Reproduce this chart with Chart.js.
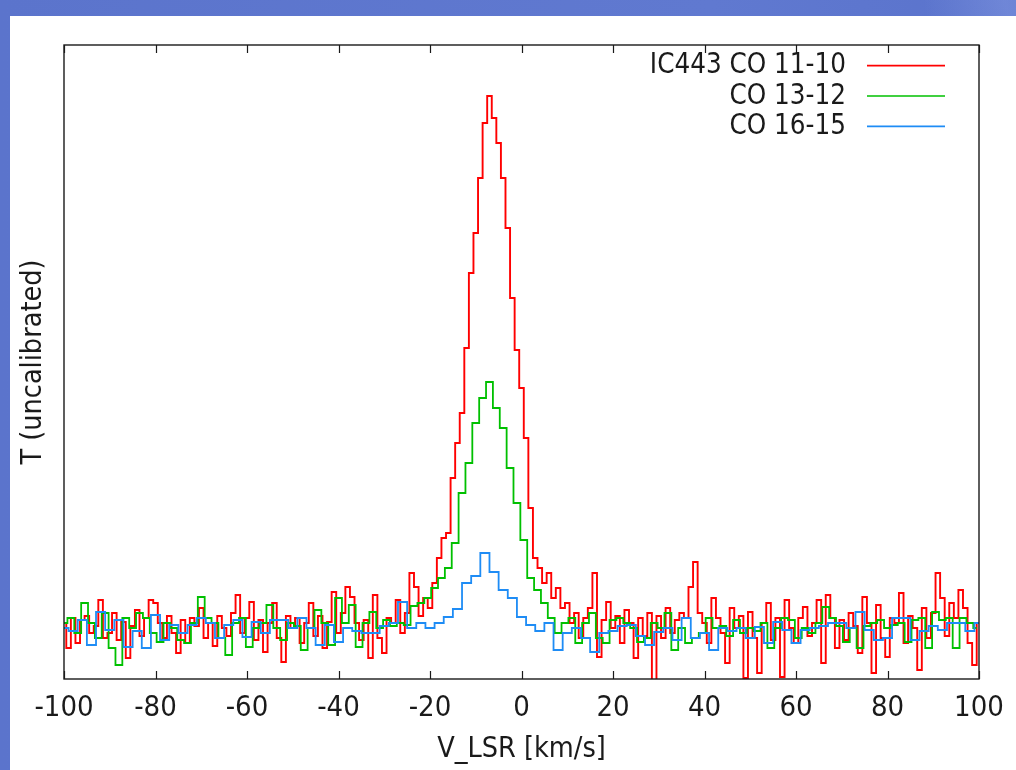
<!DOCTYPE html>
<html><head><meta charset="utf-8">
<script src="https://cdn.jsdelivr.net/npm/chart.js@4.4.1/dist/chart.umd.min.js"></script>
<style>
html,body{margin:0;padding:0;background:#5f78cf;overflow:hidden}
canvas{display:block}
</style></head>
<body>
<canvas id="c" width="1016" height="770" style="width:1016px;height:770px"></canvas>
<script>
// ---------- data ----------
const seriesLabels = ['IC443 CO 11-10', 'CO 13-12', 'CO 16-15'];
const velocityTicks = [-100, -80, -60, -40, -20, 0, 20, 40, 60, 80, 100];
const xAxisTitle = 'V_LSR [km/s]';
const yAxisTitle = 'T (uncalibrated)';

// channel grids (start velocity, channel width in km/s)
const redStart = -100, redWidth = 1.0;
const greenStart = -100, greenWidth = 1.5;
const blueStart = -100, blueWidth = 2.0;

// IC443 CO 11-10
const redValues = [
 0.05,-0.2,0.1,-0.15,0.08,0.12,-0.05,0.02,0.28,-0.1,
 -0.05,0.15,-0.12,0.06,-0.3,0.02,0.18,-0.08,0.1,0.28,
 0.25,0.05,-0.1,0.12,-0.05,-0.25,0.08,-0.15,0.1,0.02,
 0.2,-0.1,0.05,-0.18,0.12,0.0,-0.08,0.15,0.33,-0.05,
 0.1,0.26,-0.12,0.08,-0.24,0.05,0.25,-0.1,-0.34,0.12,
 0.0,0.1,-0.15,0.05,0.25,-0.08,0.12,-0.2,0.06,0.36,
 -0.05,0.15,0.41,0.31,0.05,-0.12,0.08,-0.3,0.33,-0.1,
 -0.25,0.1,0.05,0.28,-0.05,0.15,0.55,0.41,0.12,0.3,
 0.2,0.45,0.7,0.9,0.95,1.5,1.85,2.15,2.8,3.55,
 3.95,4.5,5.05,5.32,5.1,4.85,4.5,4.0,3.3,2.78,
 2.4,1.9,1.2,0.7,0.6,0.45,0.55,0.3,0.4,0.2,
 0.25,0.05,0.15,-0.1,0.1,0.2,0.55,-0.29,0.08,0.26,
 0.0,0.12,-0.15,0.18,0.05,-0.3,0.1,-0.08,0.15,-0.52,
 0.12,-0.1,0.2,-0.05,0.08,0.15,0.1,0.41,0.66,0.15,
 0.05,-0.15,0.3,0.1,-0.05,-0.35,0.2,0.0,0.12,-0.5,
 0.16,-0.1,-0.45,0.05,0.25,-0.12,0.1,-0.49,0.28,0.0,
 -0.15,0.1,0.21,-0.08,0.05,0.28,-0.35,0.33,0.1,-0.2,
 0.08,-0.12,0.15,0.02,-0.25,0.31,0.05,-0.45,0.23,-0.1,
 -0.29,0.1,0.05,0.35,-0.15,0.12,0.0,-0.42,0.2,-0.1,
 0.15,0.55,0.3,-0.08,0.25,0.1,0.38,0.2,-0.15,-0.37,
 0.05
];

// CO 13-12
const greenValues = [
 0.05,0.1,-0.05,0.25,0.05,-0.1,0.15,-0.2,-0.37,0.1,
 0.0,0.15,0.1,-0.05,-0.14,0.05,0.0,-0.12,-0.15,0.05,
 0.31,0.1,0.05,-0.1,-0.27,0.05,0.1,-0.19,0.0,0.05,
 0.23,0.0,-0.12,0.05,0.02,-0.22,0.0,0.18,0.05,-0.17,
 0.3,0.05,0.23,-0.19,0.05,0.16,0.0,0.08,0.02,0.05,
 0.03,0.22,0.25,0.3,0.4,0.5,0.6,0.85,1.35,1.65,
 2.05,2.3,2.46,2.2,2.0,1.6,1.25,0.88,0.5,0.38,
 0.25,0.1,-0.05,0.05,0.1,-0.15,0.05,0.15,-0.1,-0.15,
 0.08,0.1,0.05,0.0,-0.14,-0.1,0.05,0.0,0.15,-0.22,
 0.0,-0.15,-0.1,-0.05,0.1,0.0,0.02,-0.08,0.08,-0.05,
 0.0,-0.03,0.05,-0.2,0.0,0.1,0.08,-0.1,0.0,-0.05,
 0.05,0.21,0.1,0.02,-0.14,0.0,-0.2,0.02,0.05,0.08,
 0.0,0.03,0.05,-0.14,0.08,0.1,-0.2,0.16,0.08,0.1,
 -0.2,0.1,0.05,0.0
];

// CO 16-15
const blueValues = [
 0.0,-0.03,0.08,-0.17,0.16,-0.02,0.08,-0.19,-0.03,-0.2,
 0.13,-0.12,0.03,-0.05,0.03,0.1,0.05,-0.1,0.03,0.08,
 -0.09,0.06,-0.05,0.08,0.08,0.0,0.1,0.0,-0.17,0.03,
 -0.14,0.0,-0.03,-0.05,-0.05,0.02,0.05,0.26,0.0,0.05,
 0.0,0.05,0.11,0.19,0.45,0.52,0.75,0.56,0.38,0.3,
 0.11,0.03,-0.03,0.05,-0.22,-0.05,0.0,-0.1,-0.24,-0.05,
 -0.03,0.02,0.03,-0.08,-0.17,-0.04,0.0,-0.12,0.1,-0.1,
 -0.05,-0.22,0.0,-0.03,0.0,-0.1,0.01,-0.15,0.06,-0.02,
 -0.15,-0.02,0.0,0.02,0.05,0.05,0.0,0.16,-0.02,-0.12,
 -0.1,0.1,0.1,-0.12,-0.03,0.02,-0.02,0.05,0.05,-0.03,
 0.05
];

// ---------- build ----------
function toPoints(start, width, vals) {
  return vals.map((v, i) => ({ x: start + i * width, y: v }));
}
const FONT = "'DejaVu Sans Condensed', 'DejaVu Sans', sans-serif";
const colors = ['#ff0000', '#00c000', '#1e8cf5'];
const widths = [1.9, 1.8, 1.8];

const bgPlugin = {
  id: 'bg',
  beforeDraw(chart) {
    const ctx = chart.ctx;
    ctx.save();
    const g = ctx.createLinearGradient(0, 0, 1016, 0);
    g.addColorStop(0, '#5b74cc');
    g.addColorStop(0.7, '#6079d0');
    g.addColorStop(1, '#5a73cc');
    ctx.fillStyle = g;
    ctx.fillRect(0, 0, chart.width, chart.height);
    const r = ctx.createRadialGradient(1180, -40, 60, 1180, -40, 260);
    r.addColorStop(0, 'rgba(150,170,235,0)');
    r.addColorStop(0.6, 'rgba(150,170,235,0.35)');
    r.addColorStop(1, 'rgba(150,170,235,0)');
    ctx.fillStyle = r;
    ctx.fillRect(0, 0, chart.width, chart.height);
    ctx.fillStyle = '#ffffff';
    ctx.fillRect(10, 16, chart.width - 10, chart.height - 16);
    ctx.restore();
  }
};

const framePlugin = {
  id: 'frame',
  afterDraw(chart) {
    const ctx = chart.ctx;
    const a = chart.chartArea;
    const xs = chart.scales.x;
    ctx.save();
    ctx.strokeStyle = '#1a1a1a';
    ctx.lineWidth = 1.4;
    ctx.strokeRect(a.left, a.top, a.right - a.left, a.bottom - a.top);
    ctx.lineWidth = 1.2;
    ctx.beginPath();
    velocityTicks.forEach(v => {
      const px = Math.round(xs.getPixelForValue(v)) + 0.5;
      ctx.moveTo(px, a.bottom); ctx.lineTo(px, a.bottom - 8);
      ctx.moveTo(px, a.top); ctx.lineTo(px, a.top + 8);
    });
    ctx.stroke();
    // legend (gnuplot style: right-aligned text, sample line to the right)
    ctx.font = '27.5px ' + FONT;
    ctx.textAlign = 'right';
    ctx.textBaseline = 'alphabetic';
    chart.data.datasets.forEach((ds, i) => {
      const ly = 65.7 + i * 30.3;
      ctx.fillStyle = '#1a1a1a';
      ctx.fillText(ds.label, 846, ly + 7.5);
      ctx.strokeStyle = ds.borderColor;
      ctx.lineWidth = 1.7;
      ctx.beginPath();
      ctx.moveTo(867, ly); ctx.lineTo(945, ly);
      ctx.stroke();
    });
    ctx.restore();
  }
};

new Chart(document.getElementById('c'), {
  type: 'line',
  data: {
    datasets: [
      { label: seriesLabels[0], data: toPoints(redStart, redWidth, redValues), borderColor: colors[0], borderWidth: widths[0], order: 3 },
      { label: seriesLabels[1], data: toPoints(greenStart, greenWidth, greenValues), borderColor: colors[1], borderWidth: widths[1], order: 2 },
      { label: seriesLabels[2], data: toPoints(blueStart, blueWidth, blueValues), borderColor: colors[2], borderWidth: widths[2], order: 1 }
    ].map(d => Object.assign(d, { stepped: 'middle', pointRadius: 0, fill: false, tension: 0 }))
  },
  options: {
    responsive: false,
    animation: false,
    layout: { padding: { top: 45, right: 37, left: 0, bottom: 0 } },
    plugins: { legend: { display: false }, tooltip: { enabled: false } },
    scales: {
      x: {
        type: 'linear', min: -100, max: 100,
        afterBuildTicks: s => { s.ticks = velocityTicks.map(v => ({ value: v })); },
        ticks: { color: '#1a1a1a', font: { family: FONT, size: 29 }, padding: 12, maxRotation: 0, autoSkip: false },
        grid: { display: false, drawTicks: false },
        border: { display: false },
        title: { display: true, text: xAxisTitle, color: '#1a1a1a', font: { family: FONT, size: 28.5 }, padding: { top: 0, bottom: 3 } },
        afterFit: s => { s.height = 91; }
      },
      y: {
        type: 'linear', min: -0.51, max: 5.83,
        ticks: { display: false },
        grid: { display: false, drawTicks: false },
        border: { display: false },
        title: { display: true, text: yAxisTitle, color: '#1a1a1a', font: { family: FONT, size: 28.5 }, padding: { top: 16, bottom: 0 } },
        afterFit: s => { s.width = 64; }
      }
    }
  },
  plugins: [bgPlugin, framePlugin]
});
</script>
</body></html>
